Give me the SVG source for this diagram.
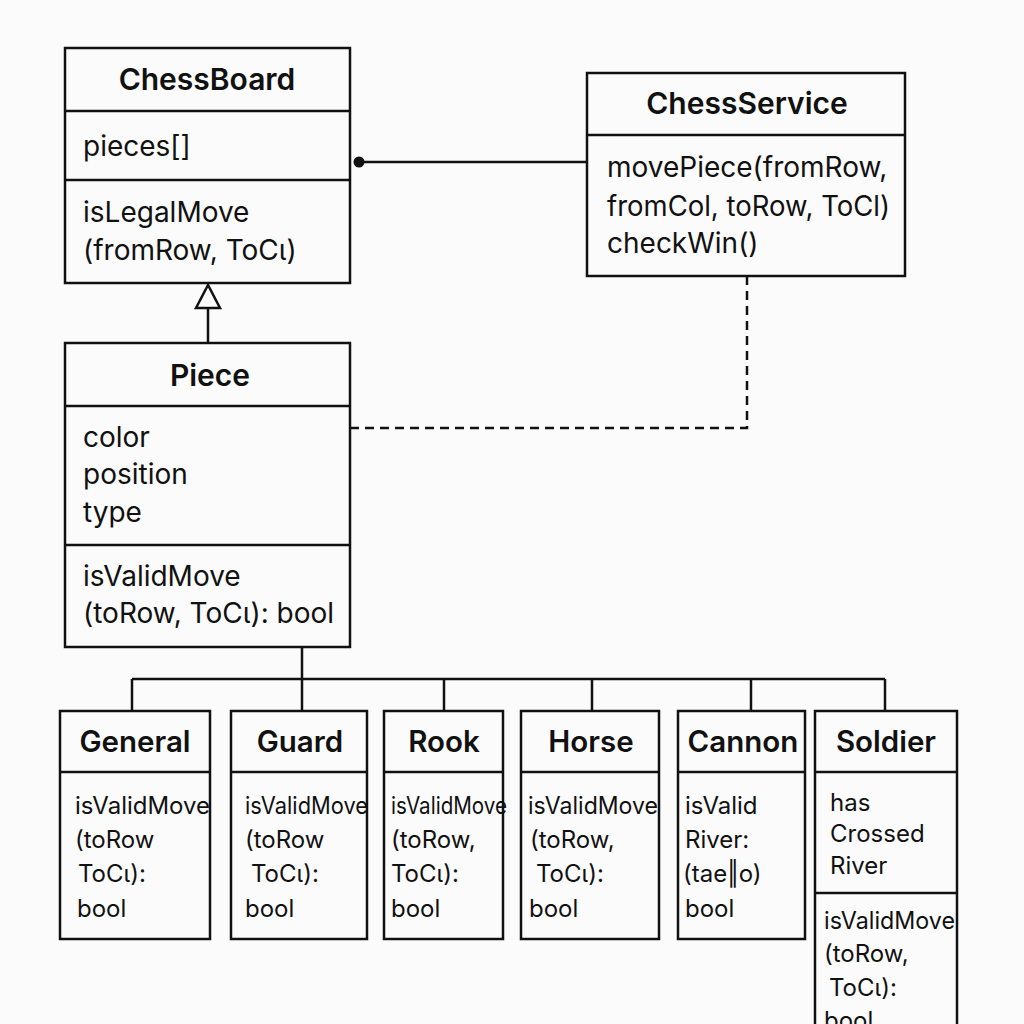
<svg xmlns="http://www.w3.org/2000/svg" width="1024" height="1024" viewBox="0 0 1024 1024">
<style>
.box{fill:#fbfbfb;stroke:#111;stroke-width:2.5}
.div{stroke:#111;stroke-width:2.5}
.ln{stroke:#111;stroke-width:2.5;fill:none}
.dash{stroke:#111;stroke-width:2.5;fill:none;stroke-dasharray:9 6}
.t{font-family:Inter,"Liberation Sans",sans-serif;font-size:30px;font-weight:600;fill:#111;text-anchor:middle}
.b{font-family:Inter,"Liberation Sans",sans-serif;font-size:28px;fill:#111}
.st{font-family:Inter,"Liberation Sans",sans-serif;font-size:29.5px;font-weight:600;fill:#111;text-anchor:middle}
.s{font-family:Inter,"Liberation Sans",sans-serif;font-size:24px;fill:#111}
</style>
<rect width="1024" height="1024" fill="#fbfbfb"/>
<g id="connectors">
<circle cx="359" cy="162" r="5.5" fill="#111"/>
<line class="ln" x1="359" y1="162" x2="587" y2="162"/>
<polygon points="208,285 196,308 220,308" fill="#fbfbfb" stroke="#111" stroke-width="2.5"/>
<line class="ln" x1="208" y1="308" x2="208" y2="343"/>
<polyline class="dash" points="350,428 747,428 747,276"/>
<line class="ln" x1="302" y1="647" x2="302" y2="679"/>
<line class="ln" x1="132" y1="679" x2="885" y2="679"/>
<line class="ln" x1="132" y1="679" x2="132" y2="711"/>
<line class="ln" x1="302" y1="679" x2="302" y2="711"/>
<line class="ln" x1="444" y1="679" x2="444" y2="711"/>
<line class="ln" x1="592" y1="679" x2="592" y2="711"/>
<line class="ln" x1="751" y1="679" x2="751" y2="711"/>
<line class="ln" x1="885" y1="679" x2="885" y2="711"/>
</g>
<g id="ChessBoard">
<rect class="box" x="65" y="48" width="285" height="235"/>
<line class="div" x1="65" y1="111" x2="350" y2="111"/>
<line class="div" x1="65" y1="180" x2="350" y2="180"/>
<text class="t" x="207" y="90">ChessBoard</text>
<text class="b" x="83" y="156">pieces[]</text>
<text class="b" x="83" y="222">isLegalMove</text>
<text class="b" x="83" y="260">(fromRow, ToCι)</text>
</g>
<g id="ChessService">
<rect class="box" x="587" y="73" width="318" height="203"/>
<line class="div" x1="587" y1="135" x2="905" y2="135"/>
<text class="t" x="747" y="114">ChessService</text>
<text class="b" x="607" y="177">movePiece(fromRow,</text>
<text class="b" x="607" y="216" textLength="283" lengthAdjust="spacingAndGlyphs">fromCol, toRow, ToCl)</text>
<text class="b" x="607" y="253">checkWin()</text>
</g>
<g id="Piece">
<rect class="box" x="65" y="343" width="285" height="304"/>
<line class="div" x1="65" y1="406" x2="350" y2="406"/>
<line class="div" x1="65" y1="545" x2="350" y2="545"/>
<text class="t" x="210" y="386">Piece</text>
<text class="b" x="83" y="447">color</text>
<text class="b" x="83" y="484">position</text>
<text class="b" x="83" y="522">type</text>
<text class="b" x="83" y="586">isValidMove</text>
<text class="b" x="83" y="623">(toRow, ToCι): bool</text>
</g>
<g id="General">
<rect class="box" x="60" y="711" width="150" height="228"/>
<line class="div" x1="60" y1="772" x2="210" y2="772"/>
<text class="st" x="135" y="752">General</text>
<text class="s" x="75" y="814" textLength="135" lengthAdjust="spacingAndGlyphs">isValidMove</text>
<text class="s" x="75" y="848">(toRow</text>
<text class="s" x="78" y="882">ToCι):</text>
<text class="s" x="77" y="917">bool</text>
</g>
<g id="Guard">
<rect class="box" x="231" y="711" width="136" height="228"/>
<line class="div" x1="231" y1="772" x2="367" y2="772"/>
<text class="st" x="300" y="752">Guard</text>
<text class="s" x="245" y="814" textLength="123" lengthAdjust="spacingAndGlyphs">isValidMove</text>
<text class="s" x="245" y="848">(toRow</text>
<text class="s" x="251" y="882">ToCι):</text>
<text class="s" x="245" y="917">bool</text>
</g>
<g id="Rook">
<rect class="box" x="384" y="711" width="119" height="228"/>
<line class="div" x1="384" y1="772" x2="503" y2="772"/>
<text class="st" x="444" y="752">Rook</text>
<text class="s" x="391" y="814" textLength="116" lengthAdjust="spacingAndGlyphs">isValidMove</text>
<text class="s" x="391" y="848">(toRow,</text>
<text class="s" x="391" y="882">ToCι):</text>
<text class="s" x="391" y="917">bool</text>
</g>
<g id="Horse">
<rect class="box" x="521" y="711" width="138" height="228"/>
<line class="div" x1="521" y1="772" x2="659" y2="772"/>
<text class="st" x="591" y="752">Horse</text>
<text class="s" x="528" y="814" textLength="130" lengthAdjust="spacingAndGlyphs">isValidMove</text>
<text class="s" x="530" y="848">(toRow,</text>
<text class="s" x="536" y="882">ToCι):</text>
<text class="s" x="529" y="917">bool</text>
</g>
<g id="Cannon">
<rect class="box" x="678" y="711" width="127" height="228"/>
<line class="div" x1="678" y1="772" x2="805" y2="772"/>
<text class="st" x="743" y="752">Cannon</text>
<text class="s" x="685" y="814">isValid</text>
<text class="s" x="685" y="848">River:</text>
<text class="s" x="683" y="882">(tae‖o)</text>
<text class="s" x="685" y="917">bool</text>
</g>
<g id="Soldier">
<rect class="box" x="815" y="711" width="142" height="330"/>
<line class="div" x1="815" y1="772" x2="957" y2="772"/>
<line class="div" x1="815" y1="893" x2="957" y2="893"/>
<text class="st" x="886" y="752">Soldier</text>
<text class="s" x="830" y="811">has</text>
<text class="s" x="830" y="842">Crossed</text>
<text class="s" x="830" y="874">River</text>
<text class="s" x="824" y="929" textLength="131" lengthAdjust="spacingAndGlyphs">isValidMove</text>
<text class="s" x="824" y="962">(toRow,</text>
<text class="s" x="829" y="996">ToCι):</text>
<text class="s" x="824" y="1029">bool</text>
</g>
</svg>
